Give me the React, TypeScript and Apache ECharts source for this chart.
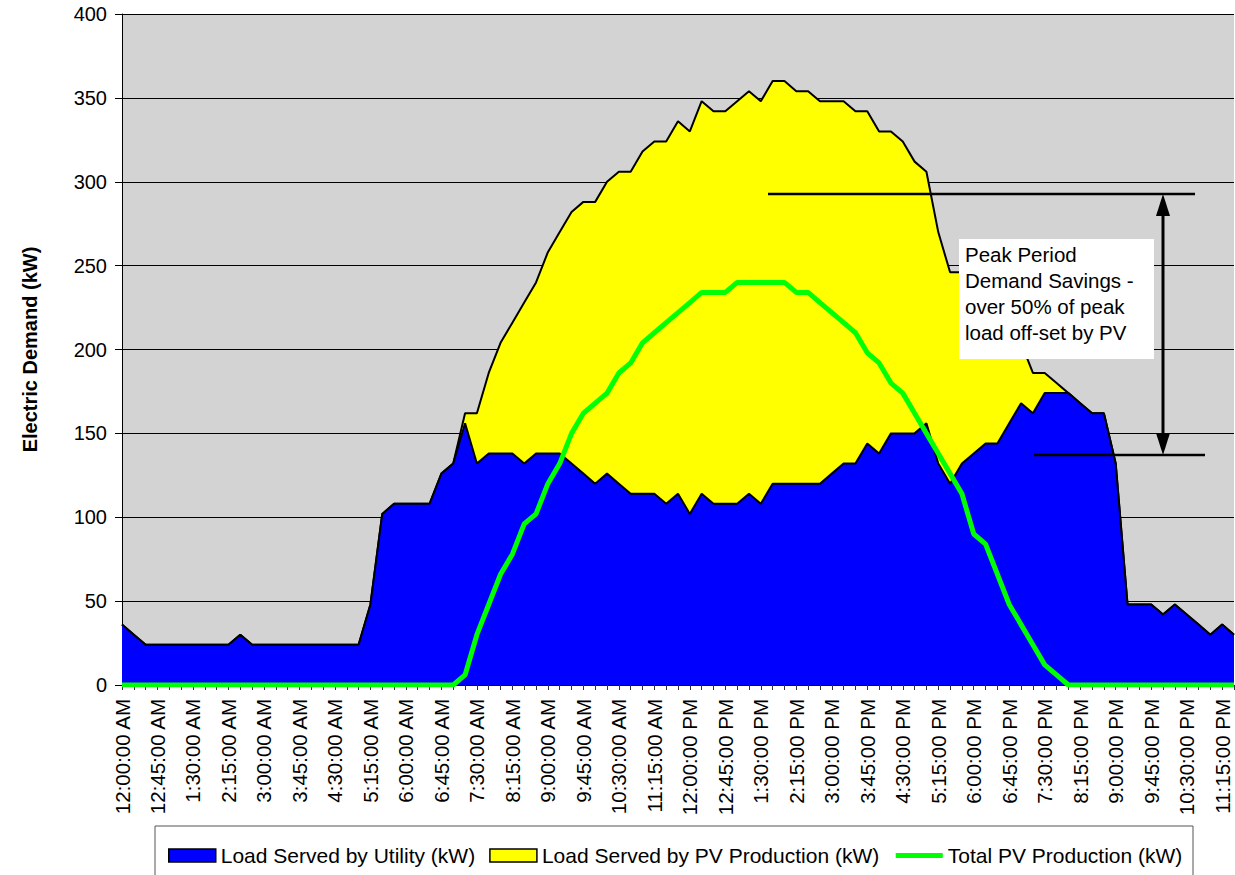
import React, { useEffect, useRef } from "react";
import * as echarts from "echarts";

// 15-minute intervals, 12:00 AM .. 11:30 PM
const times = [
  "12:00:00 AM", "12:15:00 AM", "12:30:00 AM", "12:45:00 AM",
  "1:00:00 AM", "1:15:00 AM", "1:30:00 AM", "1:45:00 AM",
  "2:00:00 AM", "2:15:00 AM", "2:30:00 AM", "2:45:00 AM",
  "3:00:00 AM", "3:15:00 AM", "3:30:00 AM", "3:45:00 AM",
  "4:00:00 AM", "4:15:00 AM", "4:30:00 AM", "4:45:00 AM",
  "5:00:00 AM", "5:15:00 AM", "5:30:00 AM", "5:45:00 AM",
  "6:00:00 AM", "6:15:00 AM", "6:30:00 AM", "6:45:00 AM",
  "7:00:00 AM", "7:15:00 AM", "7:30:00 AM", "7:45:00 AM",
  "8:00:00 AM", "8:15:00 AM", "8:30:00 AM", "8:45:00 AM",
  "9:00:00 AM", "9:15:00 AM", "9:30:00 AM", "9:45:00 AM",
  "10:00:00 AM", "10:15:00 AM", "10:30:00 AM", "10:45:00 AM",
  "11:00:00 AM", "11:15:00 AM", "11:30:00 AM", "11:45:00 AM",
  "12:00:00 PM", "12:15:00 PM", "12:30:00 PM", "12:45:00 PM",
  "1:00:00 PM", "1:15:00 PM", "1:30:00 PM", "1:45:00 PM",
  "2:00:00 PM", "2:15:00 PM", "2:30:00 PM", "2:45:00 PM",
  "3:00:00 PM", "3:15:00 PM", "3:30:00 PM", "3:45:00 PM",
  "4:00:00 PM", "4:15:00 PM", "4:30:00 PM", "4:45:00 PM",
  "5:00:00 PM", "5:15:00 PM", "5:30:00 PM", "5:45:00 PM",
  "6:00:00 PM", "6:15:00 PM", "6:30:00 PM", "6:45:00 PM",
  "7:00:00 PM", "7:15:00 PM", "7:30:00 PM", "7:45:00 PM",
  "8:00:00 PM", "8:15:00 PM", "8:30:00 PM", "8:45:00 PM",
  "9:00:00 PM", "9:15:00 PM", "9:30:00 PM", "9:45:00 PM",
  "10:00:00 PM", "10:15:00 PM", "10:30:00 PM", "10:45:00 PM",
  "11:00:00 PM", "11:15:00 PM", "11:30:00 PM",
];

// Load Served by Utility (kW)
const utilityLoad = [
  36, 30, 24, 24, 24, 24, 24, 24, 24, 24,
  30, 24, 24, 24, 24, 24, 24, 24, 24, 24,
  24, 48, 102, 108, 108, 108, 108, 126, 132, 156,
  132, 138, 138, 138, 132, 138, 138, 138, 132, 126,
  120, 126, 120, 114, 114, 114, 108, 114, 102, 114,
  108, 108, 108, 114, 108, 120, 120, 120, 120, 120,
  126, 132, 132, 144, 138, 150, 150, 150, 156, 132,
  120, 132, 138, 144, 144, 156, 168, 162, 174, 174,
  174, 168, 162, 162, 132, 48, 48, 48, 42, 48,
  42, 36, 30, 36, 30,
];

// Load Served by PV Production (kW)
const pvServed = [
  0, 0, 0, 0, 0, 0, 0, 0, 0, 0,
  0, 0, 0, 0, 0, 0, 0, 0, 0, 0,
  0, 0, 0, 0, 0, 0, 0, 0, 0, 6,
  30, 48, 66, 78, 96, 102, 120, 132, 150, 162,
  168, 174, 186, 192, 204, 210, 216, 222, 228, 234,
  234, 234, 240, 240, 240, 240, 240, 234, 234, 228,
  222, 216, 210, 198, 192, 180, 174, 162, 150, 138,
  126, 114, 90, 84, 66, 48, 36, 24, 12, 6,
  0, 0, 0, 0, 0, 0, 0, 0, 0, 0,
  0, 0, 0, 0, 0,
];

// Total PV Production (kW)
const pvTotal = [
  0, 0, 0, 0, 0, 0, 0, 0, 0, 0,
  0, 0, 0, 0, 0, 0, 0, 0, 0, 0,
  0, 0, 0, 0, 0, 0, 0, 0, 0, 6,
  30, 48, 66, 78, 96, 102, 120, 132, 150, 162,
  168, 174, 186, 192, 204, 210, 216, 222, 228, 234,
  234, 234, 240, 240, 240, 240, 240, 234, 234, 228,
  222, 216, 210, 198, 192, 180, 174, 162, 150, 138,
  126, 114, 90, 84, 66, 48, 36, 24, 12, 6,
  0, 0, 0, 0, 0, 0, 0, 0, 0, 0,
  0, 0, 0, 0, 0,
];

const seriesNames = [
  "Load Served by Utility (kW)",
  "Load Served by PV Production (kW)",
  "Total PV Production (kW)",
];

const annotationText = "Peak Period\nDemand Savings -\nover 50% of peak\nload off-set by PV";

const W = 1235;
const H = 875;
const FONT = "'Liberation Sans', Arial, Helvetica, sans-serif";

export default function App() {
  const ref = useRef<HTMLDivElement>(null);

  useEffect(() => {
    const chart = echarts.init(ref.current!, null, { renderer: "svg" });
    const black = "#000000";
    chart.setOption({
      animation: false,
      backgroundColor: "#ffffff",
      grid: {
        left: 122,
        top: 14,
        right: 1,
        bottom: 190,
        show: true,
        backgroundColor: "#D3D3D3",
        borderWidth: 0,
        containLabel: false,
        outerBoundsMode: "none",
      },
      legend: {
        left: 163,
        top: 840,
        itemWidth: 47,
        itemHeight: 13,
        itemGap: 14,
        textStyle: { fontSize: 21, fontFamily: FONT, color: black },
        data: [
          { name: seriesNames[0], icon: "rect", itemStyle: { color: "#0000FF", borderColor: black, borderWidth: 1.5 } },
          { name: seriesNames[1], icon: "rect", itemStyle: { color: "#FFFF00", borderColor: black, borderWidth: 1.5 } },
          { name: seriesNames[2], itemStyle: { opacity: 0 }, lineStyle: { color: "#00FF00", width: 5 } },
        ],
      },
      xAxis: {
        type: "category",
        data: times,
        boundaryGap: false,
        axisLine: { show: true, lineStyle: { color: black, width: 1 } },
        axisTick: { show: true, interval: 0, length: 5, lineStyle: { color: "#333" } },
        axisLabel: {
          interval: 2,
          rotate: 90,
          fontSize: 20.5,
          fontFamily: FONT,
          color: black,
          margin: 14,
        },
        splitLine: { show: false },
      },
      yAxis: {
        type: "value",
        min: 0,
        max: 400,
        interval: 50,
        name: "Electric Demand (kW)",
        nameLocation: "middle",
        nameRotate: 90,
        nameGap: 82,
        nameTextStyle: { fontSize: 20, fontWeight: "bold", fontFamily: FONT, color: black },
        axisLine: { show: true, lineStyle: { color: black, width: 1 } },
        axisTick: { show: true, length: 7, lineStyle: { color: black } },
        axisLabel: { fontSize: 20, fontFamily: FONT, color: black, margin: 15 },
        splitLine: { show: true, lineStyle: { color: black, width: 1 } },
      },
      series: [
        {
          name: seriesNames[0],
          type: "line",
          stack: "load",
          data: utilityLoad,
          symbol: "none",
          showSymbol: false,
          lineStyle: { color: black, width: 2 },
          itemStyle: { color: "#0000FF" },
          areaStyle: { color: "#0000FF", opacity: 1 },
          z: 3,
        },
        {
          name: seriesNames[1],
          type: "line",
          stack: "load",
          data: pvServed,
          symbol: "none",
          showSymbol: false,
          lineStyle: { color: black, width: 2 },
          itemStyle: { color: "#FFFF00" },
          areaStyle: { color: "#FFFF00", opacity: 1 },
          z: 2,
        },
        {
          name: seriesNames[2],
          type: "line",
          data: pvTotal,
          symbol: "none",
          showSymbol: false,
          lineStyle: { color: "#00FF00", width: 5 },
          itemStyle: { color: "#00FF00" },
          z: 4,
        },
      ],
      graphic: [
        // legend frame
        { type: "rect", z: 0, shape: { x: 155, y: 826, width: 1038, height: 70 }, style: { fill: "transparent", stroke: "#555", lineWidth: 1 } },
        // peak lines
        { type: "line", z: 100, shape: { x1: 768, y1: 194, x2: 1195, y2: 194 }, style: { stroke: black, lineWidth: 2.5 } },
        { type: "line", z: 100, shape: { x1: 1034, y1: 455, x2: 1205, y2: 455 }, style: { stroke: black, lineWidth: 2.5 } },
        // double arrow
        { type: "line", z: 100, shape: { x1: 1163, y1: 210, x2: 1163, y2: 440 }, style: { stroke: black, lineWidth: 3 } },
        { type: "polygon", z: 100, shape: { points: [[1163, 194], [1156, 216], [1170, 216]] }, style: { fill: black } },
        { type: "polygon", z: 100, shape: { points: [[1163, 455], [1156, 433], [1170, 433]] }, style: { fill: black } },
        // text box
        { type: "rect", z: 100, shape: { x: 959, y: 239, width: 195, height: 120 }, style: { fill: "#ffffff" } },
        {
          type: "text",
          z: 101,
          style: {
            x: 965,
            y: 241,
            text: annotationText,
            fontSize: 20.5,
            fontFamily: FONT,
            lineHeight: 26,
            fill: black,
            verticalAlign: "top",
            align: "left",
          },
        },
      ],
    });
    return () => chart.dispose();
  }, []);

  return (
    <div
      ref={ref}
      style={{ position: "fixed", left: 0, top: 0, width: W, height: H, background: "#ffffff" }}
    />
  );
}
